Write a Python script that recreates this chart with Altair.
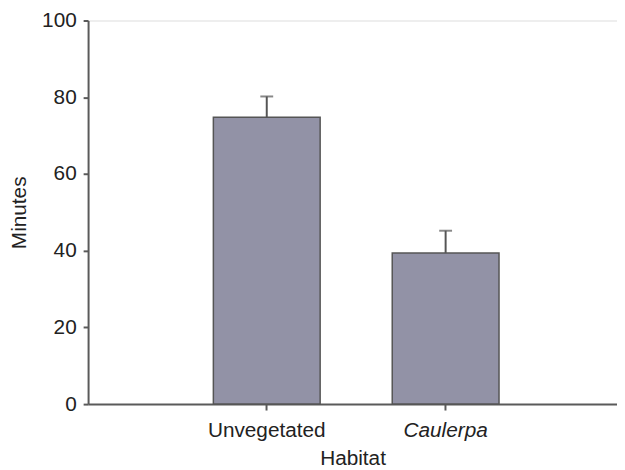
import altair as alt
import pandas as pd

habitats = ["Unvegetated", "Caulerpa"]
means = [74.8, 39.4]
errors = [5.4, 5.8]

df = pd.DataFrame({"Habitat": habitats, "Minutes": means, "err": errors})

FONT = "Liberation Sans"
TXT = "#222222"
AX = "#5a5a5a"
FS = 21

x = alt.X(
    "Habitat:N",
    sort=habitats,
    scale=alt.Scale(paddingInner=0.403, paddingOuter=0.68, align=0.515),
    axis=alt.Axis(
        title="Habitat",
        labelAngle=0,
        labelFont=FONT,
        labelFontSize=FS,
        labelColor=TXT,
        labelPadding=10,
        labelFontStyle={"condition": {"test": "datum.value == 'Caulerpa'", "value": "italic"}, "value": "normal"},
        titleFont=FONT,
        titleFontSize=FS,
        titleFontWeight="normal",
        titleColor=TXT,
        titlePadding=7,
        domainColor=AX,
        domainWidth=2,
        tickColor=AX,
        tickWidth=2,
        tickSize=6,
    ),
)

y_axis = alt.Axis(
    title="Minutes",
    values=[0, 20, 40, 60, 80, 100],
    grid=False,
    labelFont=FONT,
    labelFontSize=FS,
    labelColor=TXT,
    labelPadding=7,
    titleFont=FONT,
    titleFontSize=FS,
    titleFontWeight="normal",
    titleColor=TXT,
    titlePadding=12,
    domainColor=AX,
    domainWidth=2,
    tickColor=AX,
    tickWidth=2,
    tickSize=5,
)

base = alt.Chart(df).transform_calculate(upper="datum.Minutes + datum.err")

bars = base.mark_bar(color="#9292a6", stroke="#555555", strokeWidth=1.5).encode(
    x=x,
    y=alt.Y("Minutes:Q", scale=alt.Scale(domain=[0, 100], nice=False), axis=y_axis),
)

rules = base.mark_rule(color="#555555", strokeWidth=2).encode(
    x=alt.X("Habitat:N", sort=habitats),
    y="Minutes:Q",
    y2="upper:Q",
)

caps = base.mark_tick(color="#555555", size=13, thickness=2, orient="horizontal").encode(
    x=alt.X("Habitat:N", sort=habitats),
    y="upper:Q",
)

chart = (
    alt.layer(bars, rules, caps)
    .properties(
        width=535,
        height=388,
        autosize=alt.AutoSizeParams(type="none"),
        padding={"left": 81, "top": 10, "right": 0, "bottom": 64},
    )
    .configure_view(stroke=None)
    .configure(background="white")
)

chart.save("out.html", embed_options={"renderer": "svg", "actions": False})
